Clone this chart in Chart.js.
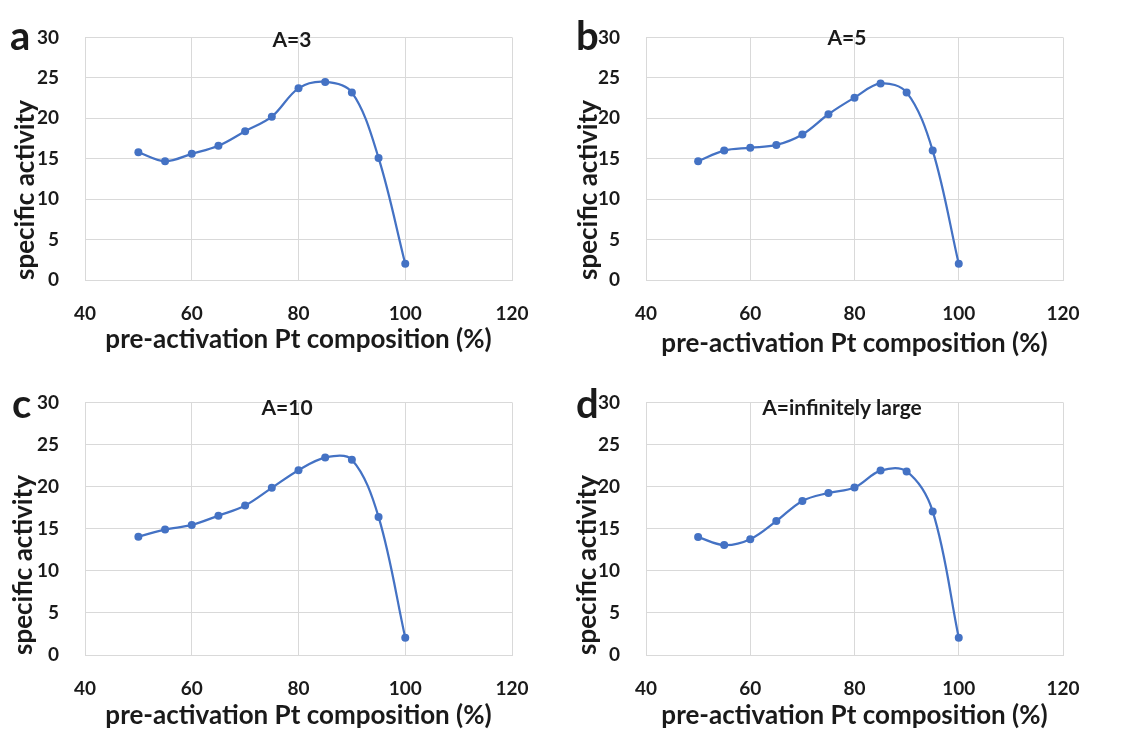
<!DOCTYPE html>
<html>
<head>
<meta charset="utf-8">
<script src="https://cdn.jsdelivr.net/npm/chart.js@4.4.0/dist/chart.umd.min.js"></script>
<style>
  body { margin: 0; background: #fff; width: 1133px; height: 729px; position: relative; overflow: hidden; }
  .panel { position: absolute; }
</style>
</head>
<body>
<div class="panel" style="left:0;top:0"><canvas id="chartA" width="560" height="365"></canvas></div>
<div class="panel" style="left:560px;top:0"><canvas id="chartB" width="573" height="365"></canvas></div>
<div class="panel" style="left:0;top:365px"><canvas id="chartC" width="560" height="364"></canvas></div>
<div class="panel" style="left:560px;top:365px"><canvas id="chartD" width="573" height="364"></canvas></div>
<script>
// pre-activation Pt composition (%)
const composition = [50, 55, 60, 65, 70, 75, 80, 85, 90, 95, 100];

// specific activity for each A value
const activityA3  = [15.8, 14.7, 15.6, 16.6, 18.4, 20.2, 23.7, 24.5, 23.2, 15.1, 2.0];
const activityA5  = [14.7, 16.0, 16.35, 16.7, 18.0, 20.5, 22.55, 24.3, 23.2, 16.0, 2.0];
const activityA10 = [14.05, 14.9, 15.45, 16.55, 17.75, 19.85, 21.95, 23.45, 23.2, 16.4, 2.05];
const activityInf = [14.0, 13.05, 13.75, 15.9, 18.3, 19.25, 19.9, 21.9, 21.8, 17.05, 2.05];

const xTicks = [40, 60, 80, 100, 120];
const yTicks = [0, 5, 10, 15, 20, 25, 30];

const BLUE = '#4472C4';
const GRID = '#d9d9d9';
const INK = '#1a1a1a';

Chart.defaults.font.family = 'Lato';
Chart.defaults.color = INK;

// panel letter + in-plot title
const panelText = {
  id: 'panelText',
  afterDraw(chart, args, opts) {
    const ctx = chart.ctx;
    ctx.save();
    ctx.fillStyle = INK;
    ctx.textAlign = 'center';
    ctx.textBaseline = 'middle';
    ctx.font = 'bold 21px Lato';
    ctx.fillText(opts.title, opts.titleX, opts.titleY);
    ctx.textAlign = 'left';
    ctx.textBaseline = 'alphabetic';
    ctx.font = 'bold 40px Lato';
    ctx.fillText(opts.letter, opts.letterX, opts.letterY);
    ctx.restore();
  }
};

const panels = [
  { id: 'chartA', letter: 'a', title: 'A=3', values: activityA3,
    area: { left: 85, top: 21, right: 512, bottom: 280 },
    titleX: 292, titleY: 40, letterX: 10, letterY: 50, yTitlePad: 13, xTitlePad: 12 },
  { id: 'chartB', letter: 'b', title: 'A=5', values: activityA5,
    area: { left: 86, top: 21, right: 503, bottom: 280 },
    titleX: 287, titleY: 38, letterX: 16, letterY: 50, yTitlePad: 16, xTitlePad: 8 },
  { id: 'chartC', letter: 'c', title: 'A=10', values: activityA10,
    area: { left: 85, top: 27, right: 512, bottom: 290 },
    titleX: 287, titleY: 43, letterX: 12, letterY: 53, yTitlePad: 11, xTitlePad: 0 },
  { id: 'chartD', letter: 'd', title: 'A=infinitely large', values: activityInf,
    area: { left: 86, top: 27, right: 503, bottom: 290 },
    titleX: 282, titleY: 43, letterX: 16, letterY: 53, yTitlePad: 15, xTitlePad: 0 }
];

function makePanel(p) {
  const canvas = document.getElementById(p.id);
  const W = canvas.width, H = canvas.height;
  return new Chart(canvas, {
    type: 'line',
    data: {
      datasets: [{
        data: composition.map((x, i) => ({ x: x, y: p.values[i] })),
        borderColor: BLUE,
        backgroundColor: BLUE,
        borderWidth: 2.25,
        pointRadius: 4,
        pointBorderWidth: 0,
        tension: 0.35
      }]
    },
    options: {
      responsive: false,
      animation: false,
      layout: { padding: { top: p.area.top, right: W - p.area.right, bottom: 0, left: 0 } },
      plugins: {
        legend: { display: false },
        tooltip: { enabled: false },
        panelText: p
      },
      scales: {
        x: {
          type: 'linear', min: 40, max: 120,
          afterBuildTicks: s => { s.ticks = xTicks.map(v => ({ value: v })); },
          afterFit: s => { s.height = H - p.area.bottom; },
          grid: { color: GRID, drawTicks: false },
          border: { color: GRID },
          ticks: { padding: 22, font: { size: 19, weight: 'bold' }, maxRotation: 0 },
          title: {
            display: true, text: 'pre-activation Pt composition (%)',
            font: { size: 26, weight: 'bold', lineHeight: 1 },
            padding: { top: 0, bottom: p.xTitlePad }
          }
        },
        y: {
          min: 0, max: 30,
          afterBuildTicks: s => { s.ticks = yTicks.map(v => ({ value: v })); },
          afterFit: s => { s.width = p.area.left; },
          grid: { color: GRID, drawTicks: false },
          border: { color: GRID },
          ticks: { padding: 26, font: { size: 19, weight: 'bold' } },
          title: {
            display: true, text: 'specific activity', align: 'start',
            font: { size: 26, weight: 'bold', lineHeight: 1 },
            padding: { top: p.yTitlePad, bottom: 0 }
          }
        }
      }
    },
    plugins: [panelText]
  });
}

document.fonts.load('bold 20px Lato').then(() => panels.forEach(makePanel));
</script>
</body>
</html>
